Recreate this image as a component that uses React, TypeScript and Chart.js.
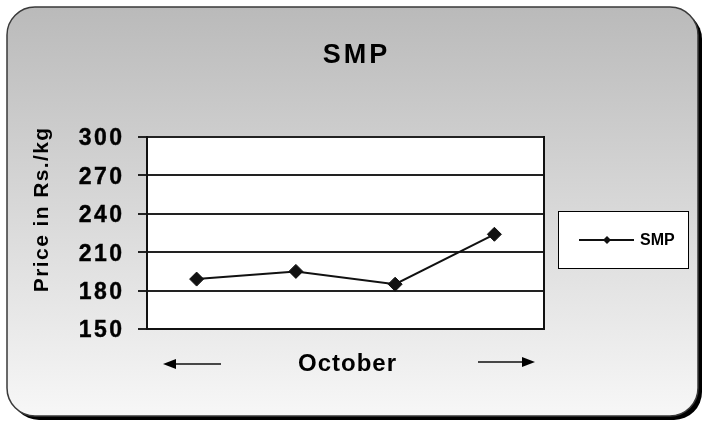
import React, { useEffect, useRef } from 'react';
import { Chart, registerables } from 'chart.js';

Chart.register(...registerables);

const categories = ['Week 1', 'Week 2', 'Week 3', 'Week 4'];
const smpPrices = [189, 195, 185, 224];
const yTicks = [150, 180, 210, 240, 270, 300];
const chartTitle = 'SMP';
const yAxisTitle = 'Price in Rs./kg';
const xAxisTitle = 'October';
const seriesName = 'SMP';

const FONT = '"Liberation Sans", Arial, sans-serif';

function roundRectPath(ctx: CanvasRenderingContext2D, x: number, y: number, w: number, h: number, r: number) {
  ctx.beginPath();
  ctx.moveTo(x + r, y);
  ctx.lineTo(x + w - r, y);
  ctx.arcTo(x + w, y, x + w, y + r, r);
  ctx.lineTo(x + w, y + h - r);
  ctx.arcTo(x + w, y + h, x + w - r, y + h, r);
  ctx.lineTo(x + r, y + h);
  ctx.arcTo(x, y + h, x, y + h - r, r);
  ctx.lineTo(x, y + r);
  ctx.arcTo(x, y, x + r, y, r);
  ctx.closePath();
}

const framePlugin = {
  id: 'framePlugin',
  beforeDraw(chart: any) {
    const ctx: CanvasRenderingContext2D = chart.ctx;
    const { left, top, right, bottom } = chart.chartArea;
    ctx.save();
    roundRectPath(ctx, 11, 11, 691, 409, 28);
    ctx.fillStyle = '#000';
    ctx.fill();
    roundRectPath(ctx, 7, 7, 691, 409, 28);
    const g = ctx.createLinearGradient(0, 7, 0, 416);
    g.addColorStop(0, '#bababa');
    g.addColorStop(1, '#f7f7f7');
    ctx.fillStyle = g;
    ctx.fill();
    ctx.lineWidth = 1.5;
    ctx.strokeStyle = '#3a3a3a';
    ctx.stroke();
    ctx.fillStyle = '#fff';
    ctx.fillRect(left, top, right - left, bottom - top);
    ctx.restore();
    (ctx as any).letterSpacing = '2.5px';
  },
  afterDraw(chart: any) {
    const ctx: CanvasRenderingContext2D = chart.ctx;
    (ctx as any).letterSpacing = '0px';
    const { top, right, bottom } = chart.chartArea;
    ctx.save();
    // right border of plot
    ctx.strokeStyle = '#111';
    ctx.lineWidth = 2;
    ctx.beginPath();
    ctx.moveTo(right, top - 1);
    ctx.lineTo(right, bottom + 1);
    ctx.stroke();

    ctx.fillStyle = '#000';
    // title
    ctx.font = `bold 27px ${FONT}`;
    (ctx as any).letterSpacing = '3px';
    ctx.textAlign = 'center';
    ctx.textBaseline = 'alphabetic';
    ctx.fillText(chartTitle, 356.5, 63);

    // y title
    ctx.save();
    ctx.font = `bold 21px ${FONT}`;
    (ctx as any).letterSpacing = '1.4px';
    ctx.translate(48, 210);
    ctx.rotate(-Math.PI / 2);
    ctx.textAlign = 'center';
    ctx.fillText(yAxisTitle, 0.7, 0);
    ctx.restore();

    // x title
    ctx.font = `bold 24px ${FONT}`;
    (ctx as any).letterSpacing = '1px';
    ctx.textAlign = 'center';
    ctx.fillText(xAxisTitle, 347.5, 371);
    (ctx as any).letterSpacing = '0px';

    // arrows
    ctx.strokeStyle = '#111';
    ctx.lineWidth = 1.5;
    ctx.beginPath();
    ctx.moveTo(221, 364);
    ctx.lineTo(172, 364);
    ctx.moveTo(478, 362);
    ctx.lineTo(526, 362);
    ctx.stroke();
    ctx.fillStyle = '#000';
    ctx.beginPath();
    ctx.moveTo(163, 364);
    ctx.lineTo(176, 359);
    ctx.lineTo(176, 369);
    ctx.closePath();
    ctx.fill();
    ctx.beginPath();
    ctx.moveTo(535, 362);
    ctx.lineTo(522, 357);
    ctx.lineTo(522, 367);
    ctx.closePath();
    ctx.fill();

    // legend
    const ds = chart.data.datasets[0];
    ctx.fillStyle = '#fff';
    ctx.fillRect(558.5, 211.5, 130, 57);
    ctx.strokeStyle = '#000';
    ctx.lineWidth = 1;
    ctx.strokeRect(558.5, 211.5, 130, 57);
    ctx.strokeStyle = ds.borderColor;
    ctx.lineWidth = 2;
    ctx.beginPath();
    ctx.moveTo(579, 240);
    ctx.lineTo(634, 240);
    ctx.stroke();
    ctx.fillStyle = ds.pointBackgroundColor;
    ctx.beginPath();
    ctx.moveTo(607, 236);
    ctx.lineTo(611, 240);
    ctx.lineTo(607, 244);
    ctx.lineTo(603, 240);
    ctx.closePath();
    ctx.fill();
    ctx.fillStyle = '#000';
    ctx.font = `bold 16px ${FONT}`;
    ctx.textAlign = 'left';
    ctx.textBaseline = 'middle';
    ctx.fillText(ds.label, 640, 241);
    ctx.restore();
  },
};

export default function App() {
  const ref = useRef<HTMLCanvasElement>(null);
  useEffect(() => {
    if (!ref.current) return;
    const chart = new Chart(ref.current, {
      type: 'line',
      data: {
        labels: categories,
        datasets: [
          {
            label: seriesName,
            data: smpPrices,
            borderColor: '#111',
            borderWidth: 2,
            pointStyle: 'rectRot',
            pointRadius: 7,
            pointBackgroundColor: '#111',
            pointBorderColor: '#111',
            pointBorderWidth: 1,
            tension: 0,
          },
        ],
      },
      options: {
        responsive: false,
        animation: false,
        layout: { padding: { top: 137, right: 166, bottom: 0, left: 0 } },
        plugins: {
          legend: { display: false },
          title: { display: false },
          tooltip: { enabled: false },
        },
        scales: {
          x: {
            offset: true,
            ticks: { display: false },
            grid: { display: false },
            border: { display: true, color: '#111', width: 2 },
            afterFit: (s: any) => {
              s.height = 92;
            },
          },
          y: {
            min: yTicks[0],
            max: yTicks[yTicks.length - 1],
            ticks: {
              stepSize: yTicks[1] - yTicks[0],
              color: '#000',
              padding: 13.5,
              labelOffset: 2,
              textStrokeColor: '#000',
              textStrokeWidth: 0.4,
              font: { family: FONT, size: 23, weight: 'bold' },
            },
            grid: { color: '#222', lineWidth: 2, tickLength: 9, drawTicks: true },
            border: { display: true, color: '#111', width: 2 },
            afterFit: (s: any) => {
              s.width = 147;
            },
          },
        },
      },
      plugins: [framePlugin],
    });
    return () => chart.destroy();
  }, []);
  return (
    <div style={{ position: 'absolute', left: 0, top: 0, width: 710, height: 421 }}>
      <canvas ref={ref} width={710} height={421} />
    </div>
  );
}
